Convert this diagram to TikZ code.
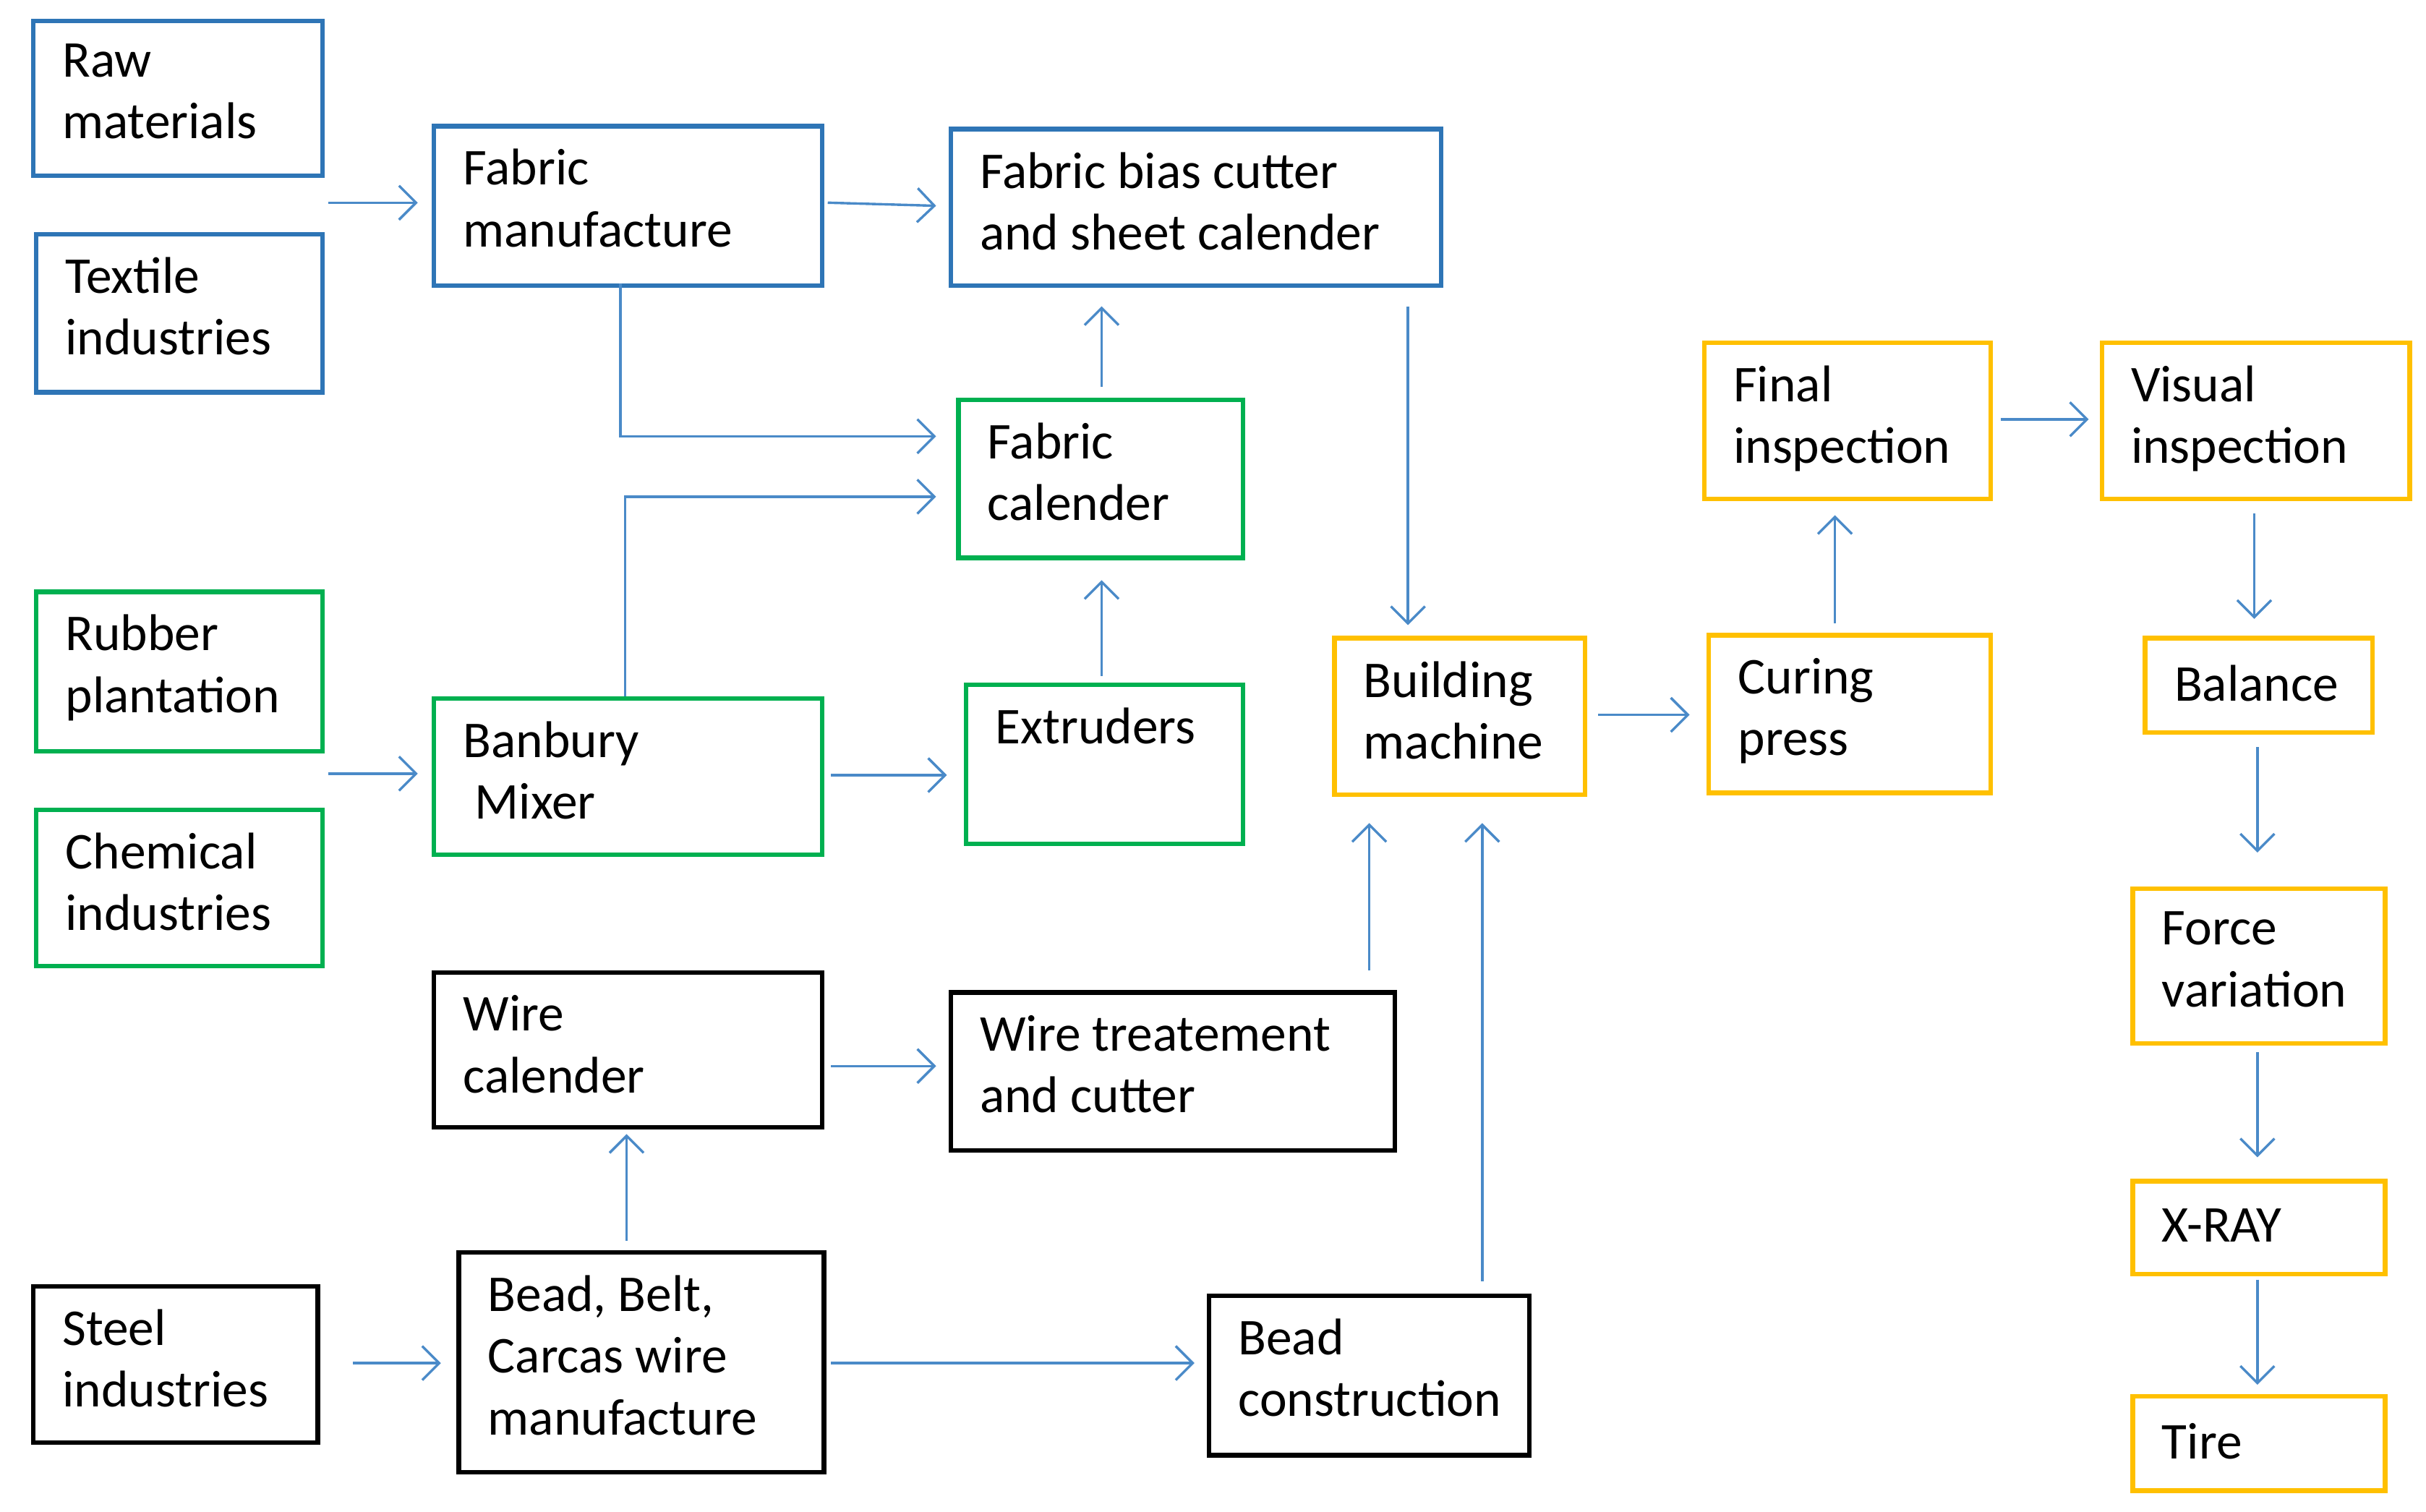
\documentclass[tikz,border=0pt]{standalone}
\usepackage{fontspec}
\setmainfont{Carlito}
\usetikzlibrary{arrows.meta}
\definecolor{cb}{HTML}{2E75B6}
\definecolor{ca}{HTML}{4A8AC8}
\definecolor{cg}{HTML}{00B050}
\definecolor{co}{HTML}{FFC000}
\begin{document}
\begin{tikzpicture}[x=0.02cm,y=-0.02cm,
  box/.style={draw=#1,line width=1.7pt,inner sep=0pt,anchor=north west},
  txt/.style={inner sep=0pt,align=left,anchor=north west,font=\fontsize{19}{22.7}\selectfont},
  ar/.style={draw=ca,line width=0.9pt,-{Straight Barb[length=2.2mm,width=4.4mm]}}]
\useasboundingbox (0,0) rectangle (1568,977);
\newcommand\bx[7]{%
  \node[box=#6,minimum width=(#4-#2)*0.02cm,minimum height=(#5-#3)*0.02cm] (#1) at (#2,#3) {};
  \node[txt] (#1t) at (#2+20,#3+16) {#7};}
\newcommand\by[7]{%
  \node[box=#6,minimum width=(#4-#2)*0.02cm,minimum height=(#5-#3)*0.02cm] (#1) at (#2,#3) {};
  \node[txt,anchor=west] (#1t) at (#2+20,{(#3+#5)/2}) {#7};}
\bx{raw}{20}{12}{207}{112}{cb}{Raw\\materials}
\bx{tex}{22}{150}{207}{252}{cb}{Textile\\industries}
\bx{fm}{279}{80}{530}{183}{cb}{Fabric\\manufacture}
\bx{fbc}{613}{82}{930}{183}{cb}{Fabric bias cutter\\and sheet calender}
\bx{fc}{618}{257}{802}{359}{cg}{Fabric\\calender}
\bx{rp}{22}{381}{207}{484}{cg}{Rubber\\plantation}
\bx{ci}{22}{522}{207}{623}{cg}{Chemical\\industries}
\bx{bm}{279}{450}{530}{551}{cg}{Banbury\\\ Mixer}
\bx{ex}{623}{441}{802}{544}{cg}{Extruders}
\bx{wc}{279}{627}{530}{727}{black}{Wire\\calender}
\bx{wt}{613}{640}{900}{742}{black}{Wire treatement\\and cutter}
\bx{si}{20}{830}{204}{931}{black}{Steel\\industries}
\bx{bb}{295}{808}{531}{950}{black}{Bead, Belt,\\Carcas wire\\manufacture}
\bx{bc}{780}{836}{987}{939}{black}{Bead\\construction}
\bx{bu}{861}{411}{1023}{512}{co}{Building\\machine}
\bx{cp}{1103}{409}{1285}{511}{co}{Curing\\press}
\bx{fi}{1100}{220}{1285}{321}{co}{Final\\inspection}
\bx{vi}{1357}{220}{1556}{321}{co}{Visual\\inspection}
\by{ba}{1385}{411}{1532}{472}{co}{Balance}
\bx{fv}{1377}{573}{1540}{673}{co}{Force\\variation}
\by{xr}{1377}{762}{1540}{822}{co}{X-RAY}
\by{ti}{1377}{901}{1540}{962}{co}{Tire}
\draw[ar] (212,131) -- (270,131);
\draw[ar] (535,131) -- (605,133);
\draw[ar] (401,183) -- (401,282) -- (605,282);
\draw[ar] (404,450) -- (404,321) -- (605,321);
\draw[ar] (712,250) -- (712,198);
\draw[ar] (712,437) -- (712,375);
\draw[ar] (212,500) -- (270,500);
\draw[ar] (537,501) -- (612,501);
\draw[ar] (910,198) -- (910,404);
\draw[ar] (885,627) -- (885,532);
\draw[ar] (958,828) -- (958,532);
\draw[ar] (1033,462) -- (1092,462);
\draw[ar] (1186,403) -- (1186,333);
\draw[ar] (1293,271) -- (1350,271);
\draw[ar] (1457,332) -- (1457,400);
\draw[ar] (1459,483) -- (1459,551);
\draw[ar] (1459,680) -- (1459,748);
\draw[ar] (1459,827) -- (1459,895);
\draw[ar] (537,689) -- (605,689);
\draw[ar] (405,802) -- (405,733);
\draw[ar] (228,881) -- (285,881);
\draw[ar] (537,881) -- (772,881);
\end{tikzpicture}
\end{document}
